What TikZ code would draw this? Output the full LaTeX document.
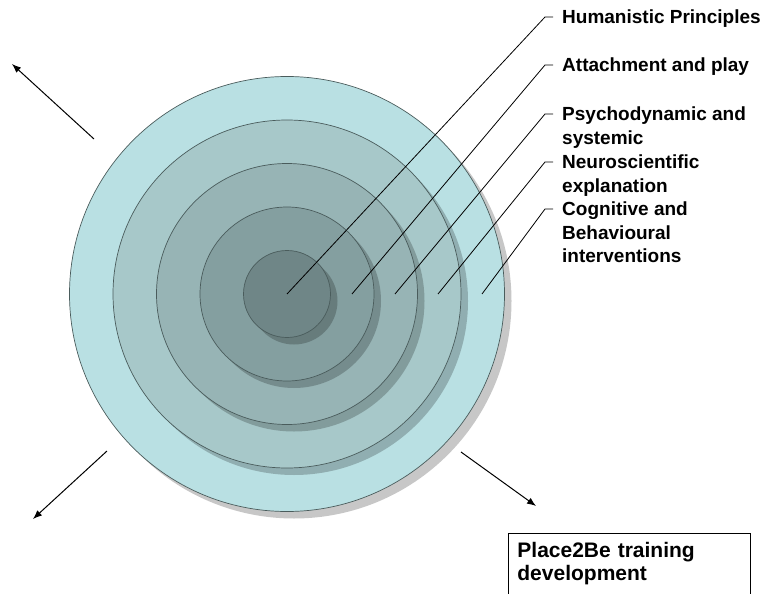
\documentclass[tikz,border=0pt]{standalone}
\usepackage{fontspec}
\setmainfont{Liberation Sans}
\usetikzlibrary{arrows.meta}
\definecolor{ringA}{HTML}{B9E0E3}
\definecolor{ringB}{HTML}{A7C8C9}
\definecolor{ringC}{HTML}{97B4B5}
\definecolor{ringD}{HTML}{849FA0}
\definecolor{ringE}{HTML}{6F8687}
\definecolor{ringline}{HTML}{4A5C5C}
\begin{document}
\begin{tikzpicture}[x=1bp,y=-1bp,
  ring/.style={circle, draw=ringline, line width=0.7bp, inner sep=0pt, minimum size=#1},
  shadowfill/.style={fill=black, fill opacity=0.22},
  leader/.style={draw=black, line width=0.8bp},
  bigarrow/.style={draw=black, line width=1bp, -{Latex[length=9bp,width=7bp]}},
  lbl/.style={anchor=north west, inner sep=0pt, align=left,
    font=\fontsize{19bp}{23.5bp}\selectfont\bfseries}]
\useasboundingbox (0,0) rectangle (762,594);
\clip (0,0) rectangle (762,594);
% rings with shadows
\fill[shadowfill] (294,301) circle (217.5);
\node[ring=435bp, fill=ringA] (r5) at (287,294) {};
\fill[shadowfill] (294,301) circle (174);
\node[ring=348bp, fill=ringB] (r4) at (287,294) {};
\fill[shadowfill] (294,301) circle (130.5);
\node[ring=261bp, fill=ringC] (r3) at (287,294) {};
\fill[shadowfill] (294,301) circle (87);
\node[ring=174bp, fill=ringD] (r2) at (287,294) {};
\fill[shadowfill] (294,301) circle (43.5);
\node[ring=87bp, fill=ringE] (r1) at (287,294) {};
% leader start points
\coordinate (s1) at (287,294);
\coordinate (s2) at (352,294);
\coordinate (s3) at (395,294);
\coordinate (s4) at (438,294);
\coordinate (s5) at (482,294);
% corners and ends
\coordinate (k1) at (545,17);  \coordinate (e1) at (553,17);
\coordinate (k2) at (545,65);  \coordinate (e2) at (553,65);
\coordinate (k3) at (545,114); \coordinate (e3) at (553,114);
\coordinate (k4) at (545,162); \coordinate (e4) at (553,162);
\coordinate (k5) at (545,209); \coordinate (e5) at (553,209);
\draw[leader] (s1) -- (k1) -- (e1);
\draw[leader] (s2) -- (k2) -- (e2);
\draw[leader] (s3) -- (k3) -- (e3);
\draw[leader] (s4) -- (k4) -- (e4);
\draw[leader] (s5) -- (k5) -- (e5);
% labels
\node[lbl] (l1) at (562,10) {Humanistic Principles};
\node[lbl] (l2) at (562,58) {Attachment and play};
\node[lbl] (l3) at (562,107) {Psychodynamic and\\systemic};
\node[lbl] (l4) at (562,155) {Neuroscientific\\explanation};
\node[lbl] (l5) at (562,202) {Cognitive and\\Behavioural\\interventions};
% outward arrows
\coordinate (a1s) at (94,139);  \coordinate (a1e) at (12,64);
\coordinate (a2s) at (107,451); \coordinate (a2e) at (33,519);
\coordinate (a3s) at (461,452); \coordinate (a3e) at (536,506);
\draw[bigarrow] (a1s) -- (a1e);
\draw[bigarrow] (a2s) -- (a2e);
\draw[bigarrow] (a3s) -- (a3e);
% box
\node[draw=black, line width=0.8bp, anchor=north west, inner xsep=9bp, inner ysep=9bp,
  text width=224bp, align=left, font=\fontsize{21bp}{23bp}\selectfont\bfseries,
  text depth=40bp] (box) at (508,533) {Place2Be training\\development};
\end{tikzpicture}
\end{document}
